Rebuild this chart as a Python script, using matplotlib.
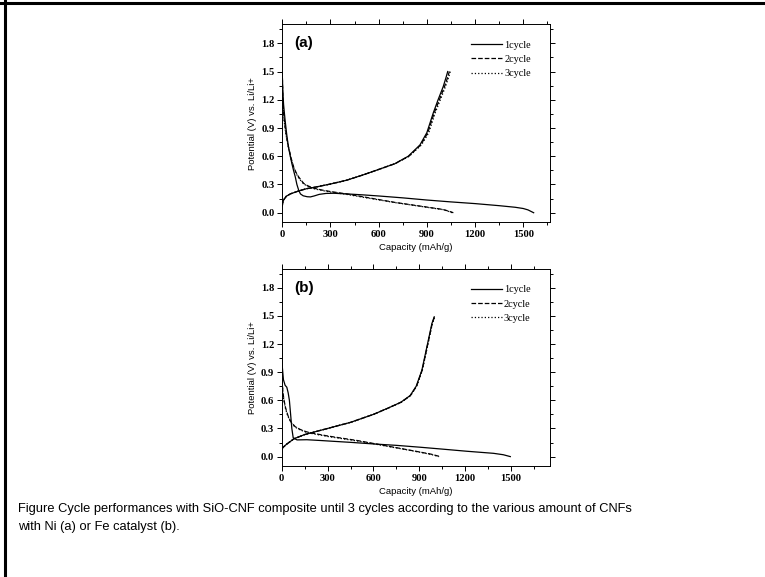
import numpy as np
import matplotlib.pyplot as plt
from matplotlib.lines import Line2D
from matplotlib.ticker import MultipleLocator, FormatStrFormatter

# (a) Ni catalyst
a_dis1_cap = [0, 3, 8, 17, 27, 38, 50, 60, 70, 81, 91, 102, 113, 130, 155, 175, 198, 230, 272, 320, 400, 500, 600, 750, 900, 1050, 1200, 1350, 1450, 1500, 1530, 1565]
a_dis1_v = [1.45, 1.3, 1.15, 0.99, 0.84, 0.70, 0.60, 0.52, 0.45, 0.38, 0.30, 0.24, 0.20, 0.18, 0.17, 0.168, 0.178, 0.195, 0.205, 0.207, 0.200, 0.19, 0.178, 0.158, 0.135, 0.115, 0.097, 0.075, 0.058, 0.045, 0.03, 0.0]
a_dis2_cap = [0, 3, 8, 17, 27, 40, 55, 70, 85, 102, 120, 134, 160, 198, 250, 300, 400, 500, 600, 700, 800, 900, 1000, 1040, 1065]
a_dis2_v = [1.50, 1.25, 1.05, 0.92, 0.80, 0.69, 0.58, 0.49, 0.43, 0.38, 0.34, 0.31, 0.285, 0.26, 0.24, 0.225, 0.20, 0.17, 0.14, 0.11, 0.085, 0.06, 0.035, 0.015, 0.0]
a_dis3_cap = [0, 3, 8, 17, 27, 40, 55, 70, 85, 102, 120, 134, 160, 198, 250, 300, 400, 500, 600, 700, 800, 900, 1000, 1035, 1058]
a_dis3_v = [1.48, 1.22, 1.03, 0.90, 0.79, 0.68, 0.57, 0.48, 0.42, 0.37, 0.33, 0.305, 0.28, 0.255, 0.235, 0.22, 0.195, 0.165, 0.137, 0.108, 0.083, 0.058, 0.033, 0.014, 0.0]
a_chg1_cap = [0, 3, 10, 25, 50, 100, 150, 200, 300, 400, 500, 600, 700, 784, 857, 900, 940, 970, 1002, 1020, 1030]
a_chg1_v = [0.07, 0.11, 0.14, 0.175, 0.20, 0.23, 0.255, 0.27, 0.305, 0.345, 0.40, 0.46, 0.52, 0.60, 0.72, 0.85, 1.06, 1.20, 1.34, 1.44, 1.50]
a_chg2_cap = [0, 3, 10, 25, 50, 100, 150, 200, 300, 400, 500, 600, 700, 788, 862, 906, 946, 978, 1010, 1030, 1040]
a_chg2_v = [0.07, 0.11, 0.14, 0.175, 0.20, 0.23, 0.255, 0.27, 0.305, 0.345, 0.40, 0.46, 0.52, 0.60, 0.72, 0.85, 1.06, 1.20, 1.34, 1.44, 1.50]
a_chg3_cap = [0, 3, 10, 25, 50, 100, 150, 200, 300, 400, 500, 600, 700, 790, 866, 912, 952, 984, 1016, 1036, 1046]
a_chg3_v = [0.07, 0.11, 0.14, 0.175, 0.20, 0.23, 0.255, 0.27, 0.305, 0.345, 0.40, 0.46, 0.52, 0.60, 0.72, 0.85, 1.06, 1.20, 1.34, 1.44, 1.50]

# (b) Fe catalyst
b_dis1_cap = [0, 4, 11, 22, 33, 42, 50, 58, 66, 75, 100, 164, 250, 338, 450, 600, 750, 906, 1050, 1212, 1386, 1450, 1496]
b_dis1_v = [1.2, 0.95, 0.82, 0.76, 0.74, 0.68, 0.60, 0.45, 0.30, 0.20, 0.178, 0.18, 0.172, 0.163, 0.152, 0.135, 0.12, 0.10, 0.08, 0.057, 0.035, 0.02, 0.0]
b_dis2_cap = [0, 3, 8, 15, 25, 40, 60, 87, 120, 160, 200, 300, 400, 500, 600, 700, 800, 900, 980, 1037]
b_dis2_v = [1.1, 0.8, 0.68, 0.60, 0.52, 0.44, 0.37, 0.32, 0.29, 0.265, 0.25, 0.22, 0.195, 0.17, 0.14, 0.11, 0.08, 0.05, 0.025, 0.0]
b_dis3_cap = [0, 3, 8, 15, 25, 40, 60, 87, 120, 160, 200, 300, 400, 500, 600, 700, 800, 900, 975, 1030]
b_dis3_v = [1.05, 0.78, 0.66, 0.59, 0.51, 0.43, 0.365, 0.315, 0.285, 0.26, 0.245, 0.215, 0.19, 0.165, 0.137, 0.107, 0.078, 0.048, 0.024, 0.0]
b_chg1_cap = [0, 10, 30, 80, 150, 300, 450, 600, 700, 780, 840, 880, 917, 950, 983, 998]
b_chg1_v = [0.08, 0.10, 0.13, 0.19, 0.235, 0.30, 0.365, 0.45, 0.52, 0.58, 0.65, 0.75, 0.92, 1.17, 1.42, 1.49]
b_chg2_cap = [0, 10, 30, 80, 150, 300, 450, 600, 700, 782, 842, 882, 919, 952, 985, 1000]
b_chg2_v = [0.08, 0.10, 0.13, 0.19, 0.235, 0.30, 0.365, 0.45, 0.52, 0.58, 0.65, 0.75, 0.92, 1.17, 1.42, 1.49]
b_chg3_cap = [0, 10, 30, 80, 150, 300, 450, 600, 700, 783, 843, 883, 920, 953, 986, 1001]
b_chg3_v = [0.08, 0.10, 0.13, 0.19, 0.235, 0.30, 0.365, 0.45, 0.52, 0.58, 0.65, 0.75, 0.92, 1.17, 1.42, 1.49]

labels = ["1cycle", "2cycle", "3cycle"]
styles = ["-", "--", ":"]
yticks = [0.0, 0.3, 0.6, 0.9, 1.2, 1.5, 1.8]
xticks = [0, 300, 600, 900, 1200, 1500]

caption = ("Figure Cycle performances with SiO-CNF composite until 3 cycles according to the various amount of CNFs\n"
           "with Ni (a) or Fe catalyst (b).")

fig = plt.figure(figsize=(7.65, 5.77), dpi=100)

panels = [
    ("(a)", [0.369, 0.615, 0.350, 0.3426], 1667,
     [(a_dis1_cap, a_dis1_v, a_chg1_cap, a_chg1_v),
      (a_dis2_cap, a_dis2_v, a_chg2_cap, a_chg2_v),
      (a_dis3_cap, a_dis3_v, a_chg3_cap, a_chg3_v)]),
    ("(b)", [0.3683, 0.1924, 0.3505, 0.3414], 1755,
     [(b_dis1_cap, b_dis1_v, b_chg1_cap, b_chg1_v),
      (b_dis2_cap, b_dis2_v, b_chg2_cap, b_chg2_v),
      (b_dis3_cap, b_dis3_v, b_chg3_cap, b_chg3_v)]),
]

for tag, rect, xmax, cycles in panels:
    ax = fig.add_axes(rect)
    for (dc, dv, cc, cv), lab, ls in zip(cycles, labels, styles):
        ax.plot(dc, dv, color="black", ls=ls, lw=0.9, label=lab)
        ax.plot(cc, cv, color="black", ls=ls, lw=0.9)
    ax.set_xlim(0, xmax)
    ax.set_ylim(-0.1, 2.0)
    ax.set_xticks(xticks)
    ax.set_yticks(yticks)
    ax.xaxis.set_minor_locator(MultipleLocator(150))
    ax.yaxis.set_minor_locator(MultipleLocator(0.15))
    ax.yaxis.set_major_formatter(FormatStrFormatter("%.1f"))
    ax.tick_params(which="both", direction="out", top=True, right=True, width=0.7)
    ax.tick_params(which="major", length=3.5, pad=2)
    ax.tick_params(which="minor", length=2)
    for lbl in ax.get_xticklabels() + ax.get_yticklabels():
        lbl.set_fontfamily("Liberation Serif")
        lbl.set_fontweight("bold")
        lbl.set_fontsize(7.6)
    for sp in ax.spines.values():
        sp.set_linewidth(0.7)
    ax.set_xlabel("Capacity (mAh/g)", fontsize=6.8, family="Liberation Sans", labelpad=3)
    ax.set_ylabel("Potential (V) vs. Li/Li+", fontsize=6.8, family="Liberation Sans", labelpad=3)
    ax.text(0.045, 0.905, tag, transform=ax.transAxes, fontsize=11, fontweight="bold",
            family="Liberation Sans", va="center", ha="left")
    ax.legend(loc="upper right", bbox_to_anchor=(0.955, 0.955), frameon=False,
              prop={"family": "Liberation Serif", "size": 7.4}, handlelength=3.0,
              handletextpad=0.2, labelspacing=0.5, borderpad=0.2)

fig.text(18 / 765, 1 - 503 / 577, caption, fontsize=9.3, family="Liberation Sans",
         va="top", ha="left", linespacing=1.65)

# page border (top and left only)
fig.add_artist(Line2D([0, 1], [1 - 3 / 577, 1 - 3 / 577], transform=fig.transFigure, color="black", lw=2.2))
fig.add_artist(Line2D([4.5 / 765, 4.5 / 765], [0, 1], transform=fig.transFigure, color="black", lw=2.2))

fig.savefig("out.png", dpi=100)
